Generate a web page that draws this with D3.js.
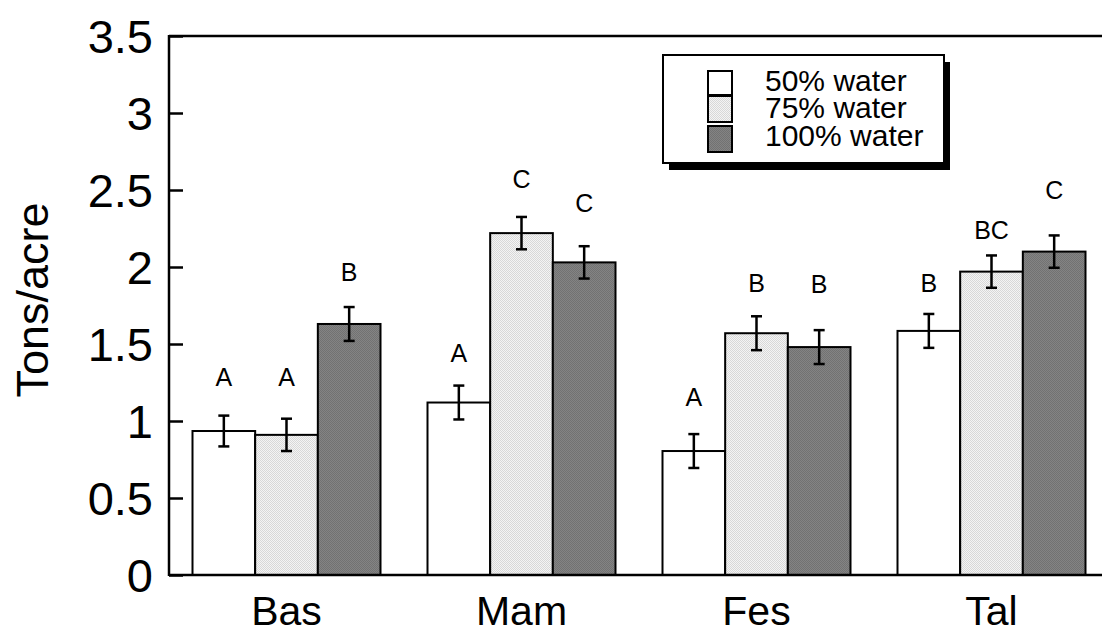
<!DOCTYPE html>
<html>
<head>
<meta charset="utf-8">
<script src="https://cdn.jsdelivr.net/npm/d3@7/dist/d3.min.js"></script>
<style>
  html, body { margin: 0; padding: 0; background: #fff; }
  svg { display: block; font-family: "Liberation Sans", Arial, Helvetica, sans-serif; }
</style>
</head>
<body>
<svg id="chart" width="1102" height="634"></svg>
<script>
const categories = ["Bas", "Mam", "Fes", "Tal"];
const seriesNames = ["50% water", "75% water", "100% water"];
const means50  = [0.935, 1.12, 0.805, 1.585];
const means75  = [0.91, 2.22, 1.57, 1.97];
const means100 = [1.63, 2.03, 1.48, 2.10];
const err50  = [0.10, 0.11, 0.11, 0.11];
const err75  = [0.105, 0.105, 0.11, 0.105];
const err100 = [0.11, 0.105, 0.11, 0.105];
const letters50  = ["A", "A", "A", "B"];
const letters75  = ["A", "C", "B", "BC"];
const letters100 = ["B", "C", "B", "C"];
const letterY50  = [1.23, 1.38, 1.10, 1.84];
const letterY75  = [1.23, 2.51, 1.84, 2.18];
const letterY100 = [1.91, 2.36, 1.83, 2.44];
const yTicks = [0, 0.5, 1, 1.5, 2, 2.5, 3, 3.5];
const yLabel = "Tons/acre";

const svg = d3.select("#chart");
const W = 1102;
const mLeft = 169, mTop = 36, mBottom = 575, mRight = 1109;

const defs = svg.append("defs");
function dotPattern(id, base, dot) {
  const p = defs.append("pattern").attr("id", id).attr("width", 2).attr("height", 2)
    .attr("patternUnits", "userSpaceOnUse");
  p.append("rect").attr("width", 2).attr("height", 2).attr("fill", base);
  p.append("rect").attr("width", 1).attr("height", 1).attr("fill", dot);
  p.append("rect").attr("x", 1).attr("y", 1).attr("width", 1).attr("height", 1).attr("fill", dot);
}
dotPattern("p75", "#f4f4f4", "#d8d8d8");
dotPattern("p100", "#848484", "#727272");
const fills = ["#ffffff", "url(#p75)", "url(#p100)"];

const y = d3.scaleLinear().domain([0, 3.5]).range([mBottom, mTop]);
const x = d3.scaleBand().domain(categories).range([mLeft, mRight]).paddingInner(0.2).paddingOuter(0.1);
const xs = d3.scaleBand().domain(seriesNames).range([0, x.bandwidth()]);

const data = [];
const means = [means50, means75, means100];
const errs = [err50, err75, err100];
const letters = [letters50, letters75, letters100];
const letterYs = [letterY50, letterY75, letterY100];
categories.forEach((c, i) => {
  seriesNames.forEach((s, j) => {
    data.push({c, s, j, v: means[j][i], e: errs[j][i], l: letters[j][i], ly: letterYs[j][i]});
  });
});

// bars
svg.append("g").selectAll("rect").data(data).join("rect")
  .attr("x", d => x(d.c) + xs(d.s))
  .attr("y", d => y(d.v))
  .attr("width", xs.bandwidth())
  .attr("height", d => y(0) - y(d.v))
  .attr("fill", d => fills[d.j])
  .attr("stroke", "#000")
  .attr("stroke-width", 2);

// error bars
const eg = svg.append("g").attr("stroke", "#000").attr("stroke-width", 2.5);
data.forEach(d => {
  const cx = x(d.c) + xs(d.s) + xs.bandwidth() / 2;
  eg.append("line").attr("x1", cx).attr("x2", cx).attr("y1", y(d.v + d.e)).attr("y2", y(d.v - d.e));
  eg.append("line").attr("x1", cx - 5.5).attr("x2", cx + 5.5).attr("y1", y(d.v + d.e)).attr("y2", y(d.v + d.e));
  eg.append("line").attr("x1", cx - 5.5).attr("x2", cx + 5.5).attr("y1", y(d.v - d.e)).attr("y2", y(d.v - d.e));
});

// letters
svg.append("g").selectAll("text").data(data).join("text")
  .attr("x", d => x(d.c) + xs(d.s) + xs.bandwidth() / 2)
  .attr("y", d => y(d.ly))
  .attr("text-anchor", "middle")
  .attr("font-size", 25)
  .text(d => d.l);

// y axis
const yAxis = d3.axisLeft(y).tickValues(yTicks).tickSizeInner(-14).tickSizeOuter(0)
  .tickPadding(16).tickFormat(d => String(d));
const ya = svg.append("g").attr("transform", `translate(${mLeft},0)`).call(yAxis);
ya.select(".domain").remove();
ya.selectAll(".tick line").attr("stroke", "#000").attr("stroke-width", 2.5);
ya.selectAll(".tick text").attr("font-size", 47).attr("fill", "#000")
  .attr("font-family", "'Liberation Sans', Arial, sans-serif").attr("dy", "0.36em");

// x axis labels
const xAxis = d3.axisBottom(x).tickSize(0).tickPadding(21);
const xa = svg.append("g").attr("transform", `translate(0,${mBottom})`).call(xAxis);
xa.select(".domain").remove();
xa.selectAll(".tick text").attr("font-size", 41).attr("fill", "#000")
  .attr("font-family", "'Liberation Sans', Arial, sans-serif");

// frame
const fg = svg.append("g").attr("stroke", "#000").attr("stroke-width", 2.5).attr("fill", "none");
fg.append("line").attr("x1", mLeft).attr("x2", W + 5).attr("y1", mTop).attr("y2", mTop);
fg.append("line").attr("x1", mLeft).attr("x2", mLeft).attr("y1", mTop - 1).attr("y2", mBottom + 1);
fg.append("line").attr("x1", mLeft).attr("x2", W + 5).attr("y1", mBottom).attr("y2", mBottom);

// y label
svg.append("text")
  .attr("transform", `translate(48,300) rotate(-90)`)
  .attr("text-anchor", "middle")
  .attr("font-size", 45)
  .text(yLabel);

// legend
const lg = svg.append("g");
lg.append("rect").attr("x", 669).attr("y", 62).attr("width", 281).attr("height", 108).attr("fill", "#000");
lg.append("rect").attr("x", 663).attr("y", 55).attr("width", 281).attr("height", 108)
  .attr("fill", "#fff").attr("stroke", "#000").attr("stroke-width", 2);
const rowsY = [71, 96, 126];
const rowsH = [24, 26, 26];
const textY = [91, 118, 146];
seriesNames.forEach((s, j) => {
  lg.append("rect").attr("x", 708).attr("y", rowsY[j]).attr("width", 24).attr("height", rowsH[j])
    .attr("fill", fills[j]).attr("stroke", "#000").attr("stroke-width", 2);
  lg.append("text").attr("x", 765).attr("y", textY[j]).attr("font-size", 30).text(s);
});
</script>
</body>
</html>
